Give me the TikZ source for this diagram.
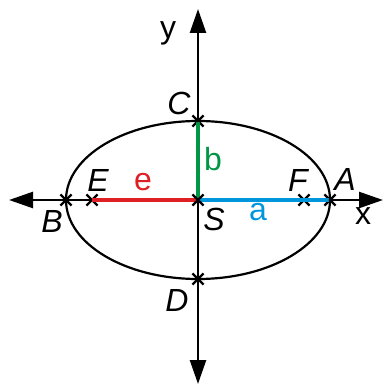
\documentclass[tikz,border=0pt]{standalone}
\usepackage{fontspec}
\setmainfont{Liberation Sans}
\usetikzlibrary{arrows.meta,shapes.misc}
\definecolor{elred}{RGB}{222,32,36}
\definecolor{elgreen}{RGB}{0,150,70}
\definecolor{elblue}{RGB}{0,150,222}
\tikzset{
  crossmk/.style={cross out,draw,line width=1.1pt,minimum size=4.5pt,inner sep=0pt},
  lbl/.style={font=\fontsize{16}{19}\selectfont,inner sep=0pt},
  ptlbl/.style={lbl,font=\fontsize{16}{19}\selectfont\itshape},
  axis/.style={line width=1.2pt,{Triangle[length=12pt,width=8pt]}-{Triangle[length=12pt,width=8pt]}}
}

\begin{document}
\begin{tikzpicture}[x=0.5pt,y=-0.5pt]
      \useasboundingbox (0,0) rectangle (383,385);
      % axes
      \coordinate (xl) at (9,200);
      \coordinate (xr) at (383,200);
      \coordinate (yt) at (198,9);
      \coordinate (yb) at (198,384);
      \draw[axis] (xl) -- (xr);
      \draw[axis] (yt) -- (yb);
      % points
      \coordinate (S) at (198,200);
      \node[crossmk] (A) at (330,200) {};
      \node[crossmk] (B) at (66,200) {};
      \node[crossmk] (C) at (198,121) {};
      \node[crossmk] (D) at (198,279) {};
      \node[crossmk] (E) at (92,200) {};
      \node[crossmk] (F) at (304,200) {};
      % half axes and focal distance
      \draw[elred,line width=1.6pt] (E.center) -- (S);
      \draw[elblue,line width=1.6pt] (S) -- (A.center);
      \draw[elgreen,line width=1.6pt] (S) -- (C.center);
      \draw[line width=1.1pt] (S) ellipse [x radius=132,y radius=79];
      \node[crossmk] (So) at (S) {};
      % labels
      \node[lbl] (ly) at (168,33) {y};
      \node[lbl] (lx) at (363,216) {x};
      \node[ptlbl] (lA) at (345,179) {A};
      \node[ptlbl] (lB) at (52,221) {B};
      \node[ptlbl] (lC) at (179,103) {C};
      \node[ptlbl] (lD) at (177,300) {D};
      \node[ptlbl] (lE) at (98,180) {E};
      \node[ptlbl] (lF) at (298,180) {F};
      \node[ptlbl] (lS) at (214,219) {S};
      \node[lbl,elred] (le) at (143,182) {e};
      \node[lbl,elgreen] (lb) at (213,159) {b};
      \node[lbl,elblue] (la) at (258,212) {a};
    \end{tikzpicture}
\end{document}
